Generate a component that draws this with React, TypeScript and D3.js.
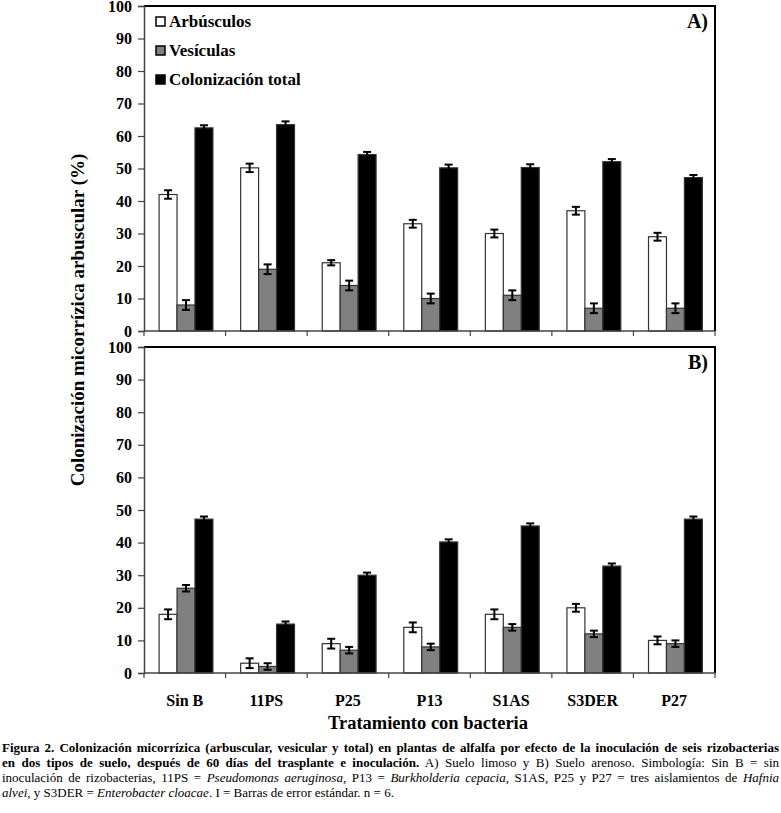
import React, { useEffect, useRef } from "react";
import * as d3 from "d3";

const categories = ["Sin B", "11PS", "P25", "P13", "S1AS", "S3DER", "P27"];
const seriesNames = ["Arbúsculos", "Vesículas", "Colonización total"];
const seriesColors = ["#ffffff", "#808080", "#000000"];
const yTicks = [0, 10, 20, 30, 40, 50, 60, 70, 80, 90, 100];

// Panel A) Suelo limoso
const arbA = [42, 50.2, 21, 33, 30, 37, 29];
const vesA = [8, 19, 14, 10, 11, 7, 7];
const totA = [62.5, 63.5, 54.3, 50.2, 50.3, 52.1, 47.2];
const errArbA = [1.3, 1.3, 0.8, 1.2, 1.2, 1.2, 1.2];
const errVesA = [1.5, 1.5, 1.5, 1.5, 1.5, 1.5, 1.5];
const errTotA = [0.8, 1, 0.8, 1, 1, 0.8, 0.8];

// Panel B) Suelo arenoso
const arbB = [18, 3, 9, 14, 18, 20, 10];
const vesB = [26, 2, 7, 8, 14, 12, 9];
const totB = [47.2, 15, 30, 40.2, 45.1, 32.8, 47.2];
const errArbB = [1.5, 1.5, 1.5, 1.5, 1.5, 1.2, 1.2];
const errVesB = [1, 1, 1, 1, 1, 1, 1];
const errTotB = [0.8, 0.8, 0.8, 0.8, 0.8, 0.8, 0.8];

const FONT = '"Liberation Serif", "Times New Roman", Times, serif';

const App: React.FC = () => {
  const ref = useRef<SVGSVGElement>(null);

  useEffect(() => {
    if (!ref.current) return;
    const svg = d3.select(ref.current);
    svg.selectAll("*").remove();

    const left = 144;
    const right = 715;

    const x = d3.scaleBand().domain(categories).range([left, right]).padding(0);
    const bw = x.bandwidth();
    const xs = d3
      .scaleBand()
      .domain(seriesNames)
      .range([bw * 0.185, bw * 0.845])
      .padding(0);

    const panels = [
      { top: 6, bottom: 331, label: "A)", vals: [arbA, vesA, totA], errs: [errArbA, errVesA, errTotA], legend: true },
      { top: 347, bottom: 673, label: "B)", vals: [arbB, vesB, totB], errs: [errArbB, errVesB, errTotB], legend: false },
    ];

    panels.forEach((p) => {
      const y = d3.scaleLinear().domain([0, 100]).range([p.bottom, p.top]);
      const g = svg.append("g");

      // frame top + right
      g.append("path")
        .attr("d", `M${left},${p.top}H${right}V${p.bottom}`)
        .attr("fill", "none")
        .attr("stroke", "#000")
        .attr("stroke-width", 2);

      // bars
      seriesNames.forEach((s, si) => {
        categories.forEach((c, ci) => {
          const v = p.vals[si][ci];
          const bx = (x(c) || 0) + (xs(s) || 0);
          g.append("rect")
            .attr("x", bx)
            .attr("y", y(v))
            .attr("width", xs.bandwidth())
            .attr("height", y(0) - y(v))
            .attr("fill", seriesColors[si])
            .attr("stroke", "#333")
            .attr("stroke-width", 1.2);
          const e = p.errs[si][ci];
          const cx = bx + xs.bandwidth() / 2;
          const eg = g.append("g").attr("stroke", "#000").attr("stroke-width", 2);
          eg.append("line").attr("x1", cx).attr("x2", cx).attr("y1", y(v - e)).attr("y2", y(v + e));
          eg.append("line").attr("x1", cx - 4).attr("x2", cx + 4).attr("y1", y(v - e)).attr("y2", y(v - e));
          eg.append("line").attr("x1", cx - 4).attr("x2", cx + 4).attr("y1", y(v + e)).attr("y2", y(v + e));
        });
      });

      // y axis
      const ya = g
        .append("g")
        .attr("transform", `translate(${left},0)`)
        .call(d3.axisLeft(y).tickValues(yTicks).tickSize(6).tickPadding(6));
      ya.attr("font-family", null).attr("font-size", null);
      ya.select(".domain").attr("stroke", "#444").attr("stroke-width", 1.5);
      ya.selectAll(".tick line").attr("stroke", "#444").attr("stroke-width", 1.2);
      ya.selectAll(".tick text")
        .style("font-family", FONT)
        .style("font-size", "16px")
        .style("font-weight", "bold")
        .attr("fill", "#000");

      // x axis with ticks at category boundaries
      const xa = g.append("g");
      xa.append("line")
        .attr("x1", left)
        .attr("x2", right)
        .attr("y1", p.bottom)
        .attr("y2", p.bottom)
        .attr("stroke", "#444")
        .attr("stroke-width", 1.5);
      const bounds = categories.map((c) => x(c) || 0).concat([right]);
      xa.selectAll("line.tk")
        .data(bounds)
        .enter()
        .append("line")
        .attr("class", "tk")
        .attr("x1", (d) => d)
        .attr("x2", (d) => d)
        .attr("y1", p.bottom)
        .attr("y2", p.bottom + 5)
        .attr("stroke", "#444")
        .attr("stroke-width", 1.2);

      g.append("text")
        .attr("x", 708)
        .attr("y", p.top + 22)
        .attr("text-anchor", "end")
        .style("font-family", FONT)
        .style("font-size", "20px")
        .style("font-weight", "bold")
        .text(p.label);

      if (p.legend) {
        seriesNames.forEach((s, si) => {
          const ly = 22 + si * 29;
          g.append("rect")
            .attr("x", 156)
            .attr("y", ly - 5)
            .attr("width", 9)
            .attr("height", 9)
            .attr("fill", seriesColors[si])
            .attr("stroke", "#000")
            .attr("stroke-width", 1.5);
          g.append("text")
            .attr("x", 169)
            .attr("y", ly + 5)
            .style("font-family", FONT)
            .style("font-size", "17px")
            .style("font-weight", "bold")
            .text(s);
        });
      }
    });

    // category labels
    svg.append("g")
      .selectAll("text")
      .data(categories)
      .enter()
      .append("text")
      .attr("x", (d) => (x(d) || 0) + bw / 2)
      .attr("y", 706)
      .attr("text-anchor", "middle")
      .style("font-family", FONT)
      .style("font-size", "16px")
      .style("font-weight", "bold")
      .text((d) => d);

    svg.append("text")
      .attr("x", 428)
      .attr("y", 729)
      .attr("text-anchor", "middle")
      .style("font-family", FONT)
      .style("font-size", "18.5px")
      .style("font-weight", "bold")
      .text("Tratamiento con bacteria");

    svg.append("text")
      .attr("transform", `translate(84,320) rotate(-90)`)
      .attr("text-anchor", "middle")
      .style("font-family", FONT)
      .style("font-size", "19px")
      .style("font-weight", "bold")
      .text("Colonización micorrízica arbuscular (%)");

    // caption
    type Seg = { t: string; b?: boolean; i?: boolean };
    const lines: { segs: Seg[]; justify: boolean }[] = [
      {
        justify: true,
        segs: [{ t: "Figura 2. Colonización micorrízica (arbuscular, vesicular y total) en plantas de alfalfa por efecto de la inoculación de seis rizobacterias", b: true }],
      },
      {
        justify: true,
        segs: [
          { t: "en dos tipos de suelo, después de 60 días del trasplante e inoculación.", b: true },
          { t: " A) Suelo limoso y B) Suelo arenoso. Simbología: Sin B = sin" },
        ],
      },
      {
        justify: true,
        segs: [
          { t: "inoculación de rizobacterias, 11PS = " },
          { t: "Pseudomonas aeruginosa", i: true },
          { t: ", P13 = " },
          { t: "Burkholderia cepacia", i: true },
          { t: ", S1AS, P25 y P27 = tres aislamientos de " },
          { t: "Hafnia", i: true },
        ],
      },
      {
        justify: false,
        segs: [
          { t: "alvei", i: true },
          { t: ", y S3DER = " },
          { t: "Enterobacter cloacae", i: true },
          { t: ". I = Barras de error estándar. n = 6." },
        ],
      },
    ];
    const target = 777;
    lines.forEach((ln, li) => {
      const t = svg
        .append("text")
        .attr("x", 2)
        .attr("y", 752 + li * 15)
        .style("font-family", FONT)
        .style("font-size", "13px")
        .style("white-space", "pre");
      ln.segs.forEach((s) => {
        t.append("tspan")
          .style("font-weight", s.b ? "bold" : "normal")
          .style("font-style", s.i ? "italic" : "normal")
          .text(s.t);
      });
      if (ln.justify) {
        const node = t.node() as SVGTextElement;
        const natural = node.getComputedTextLength();
        const full = ln.segs.map((s) => s.t).join("");
        const spaces = (full.match(/ /g) || []).length;
        if (natural < target && spaces > 0) {
          t.style("word-spacing", `${(target - natural) / spaces}px`);
        } else {
          t.attr("textLength", target).attr("lengthAdjust", "spacingAndGlyphs");
        }
      }
    });
  }, []);

  return (
    <svg
      ref={ref}
      width={781}
      height={813}
      style={{ position: "absolute", left: 0, top: 0, background: "#fff" }}
    />
  );
};

export default App;
